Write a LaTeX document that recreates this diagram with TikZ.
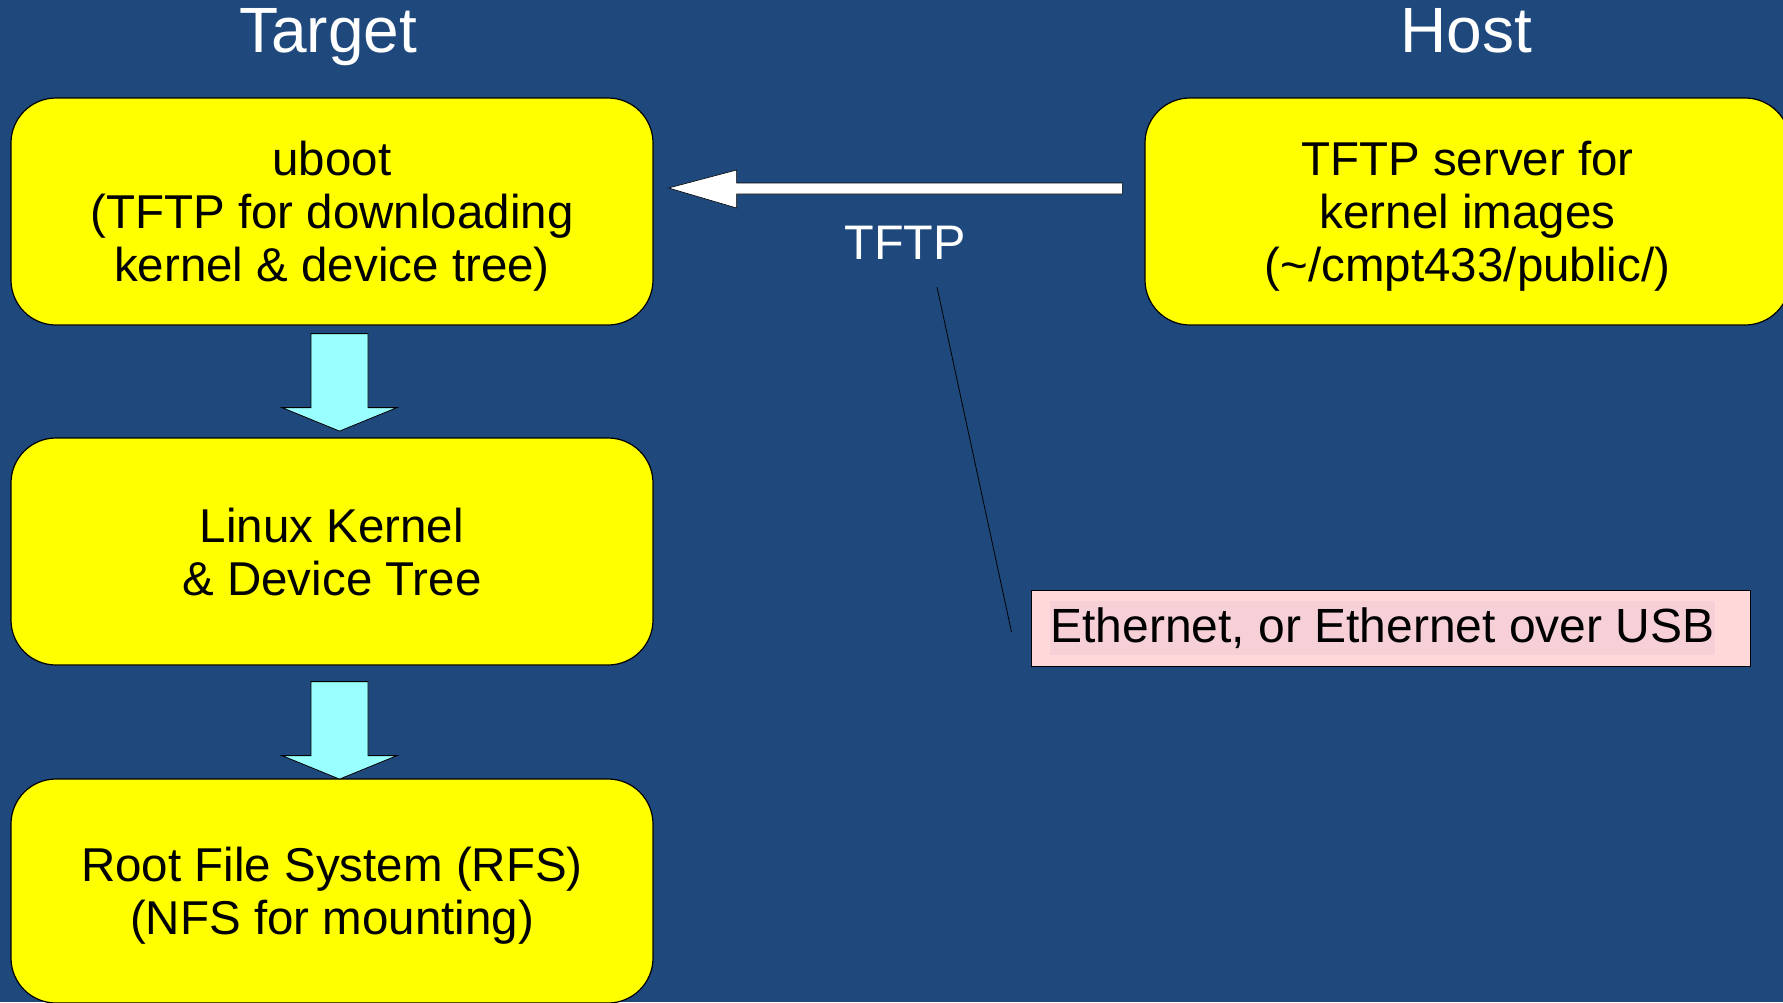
\documentclass[tikz,border=0pt]{standalone}
\usepackage{fontspec}
\setmainfont{Liberation Sans}
\usetikzlibrary{calc}
\definecolor{bgblue}{RGB}{31,73,125}
\definecolor{boxyellow}{RGB}{255,255,0}
\definecolor{arrowcyan}{RGB}{153,255,255}
\definecolor{pinkbox}{RGB}{255,216,218}
\definecolor{pinktext}{RGB}{246,208,214}
\begin{document}
\begin{tikzpicture}[x=1pt,y=-1pt,
  stage/.style={draw=black, line width=1.2pt, fill=boxyellow, rounded corners=45pt,
    minimum width=642pt, minimum height=227pt, align=center, inner sep=0pt,
    text depth=0pt,
    font=\fontsize{47.5}{53}\selectfont},
  titletext/.style={text=white, inner sep=0pt, font=\fontsize{64}{70}\selectfont},
  downarrow/.pic={\draw[fill=arrowcyan, draw=black, line width=0.8pt]
    (-28.5,0) -- (28.5,0) -- (28.5,74) -- (57.5,74) -- (0,97.5) -- (-57.5,74) -- (-28.5,74) -- cycle;}
]
\useasboundingbox (0,0) rectangle (1783,1002);
\fill[bgblue] (0,0) rectangle (1783,1002);

\node[titletext, anchor=base] (ttarget) at (328,52) {Target};
\node[titletext, anchor=base] (thost) at (1466,52) {Host};

\node[stage] (b1) at (332,211.5) {uboot\\(TFTP for downloading\\kernel \& device tree)};
\node[stage] (b2) at (332,551.5) {Linux Kernel\\\& Device Tree};
\node[stage, minimum height=224pt] (b3) at (332,891) {Root File System (RFS)\\(NFS for mounting)};
\node[stage, minimum width=645pt] (host) at (1467.5,211.5) {TFTP server for\\kernel images\\(\textasciitilde/cmpt433/public/)};

\pic at ($(b1.south)+(7.5,8)$) {downarrow};
\pic at ($(b2.south)+(7.5,16)$) {downarrow};

\coordinate (wtip) at ($(b1.east)+(15,-23.5)$);
\coordinate (wtail) at ($(host.west)+(-22,-23.5)$);
\draw[fill=white, draw=black, line width=0.6pt]
  (wtip) -- ($(wtip)+(68,-18)$) -- ($(wtip)+(68,-5)$) -- ($(wtail)+(0,-5)$)
  -- ($(wtail)+(0,6)$) -- ($(wtip)+(68,6)$) -- ($(wtip)+(68,20)$) -- cycle;

\node[text=white, anchor=base, inner sep=0pt, font=\fontsize{48.5}{56}\selectfont] (tftp) at (905,259) {TFTP};

\node[draw=black, line width=1pt, fill=pinkbox, minimum width=719pt, minimum height=76pt, inner sep=0pt] (eth) at (1390.5,628) {};
\node[fill=pinktext, minimum width=665pt, minimum height=54pt, inner sep=0pt, font=\fontsize{48}{52}\selectfont] (ethtext) at (1382.5,628) {Ethernet, or Ethernet over USB};

\coordinate (calltop) at (937,287);
\draw[black, line width=0.8pt] (calltop) -- ($(eth.west)+(-19,4)$);
\end{tikzpicture}
\end{document}
